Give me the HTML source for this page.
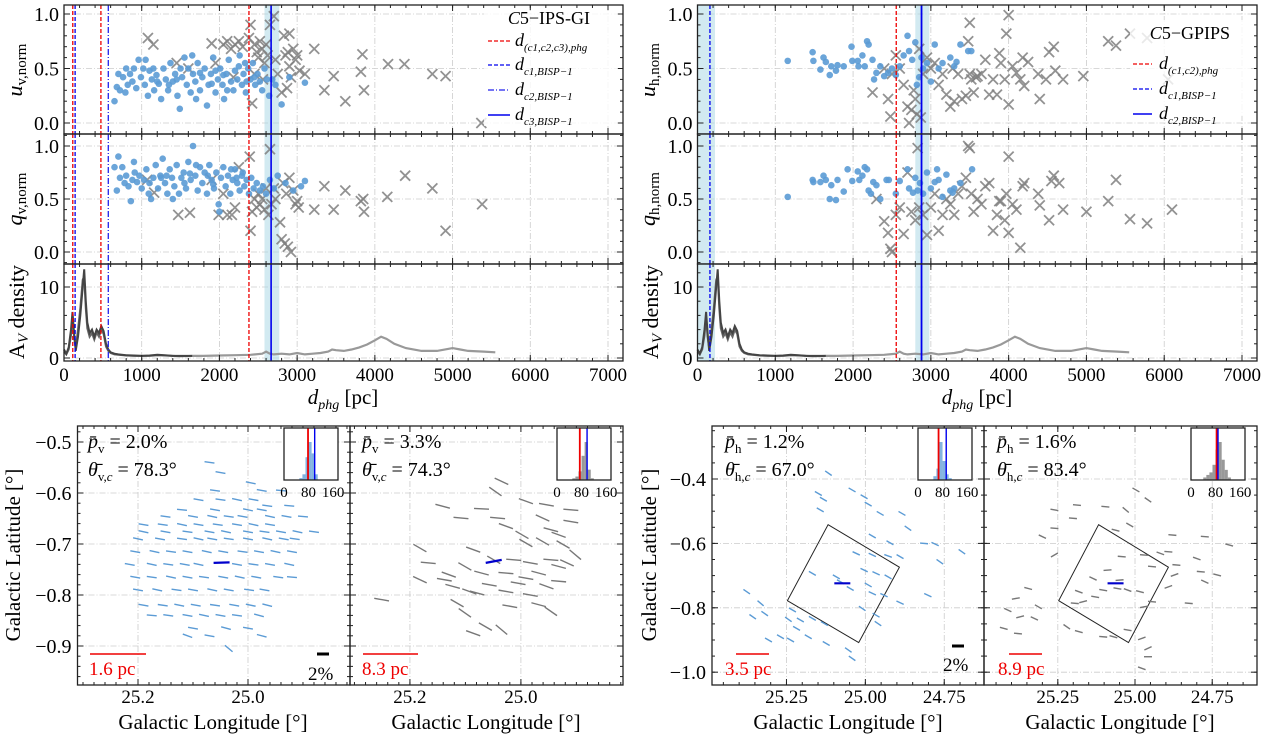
<!DOCTYPE html>
<html><head><meta charset="utf-8"><style>
html,body{margin:0;padding:0;background:#fff}
svg{display:block;font-family:"Liberation Serif",serif}
</style></head><body>
<svg id="fig" xmlns="http://www.w3.org/2000/svg" width="1265" height="737" viewBox="0 0 1265 737">
<g id="root"></g>
</svg>
<script>
// ===== Data: top distance panels =====
const uvBlue=[[650,0.2],[680,0.33],[700,0.45],[720,0.3],[760,0.42],[790,0.28],[820,0.35],[850,0.45],[880,0.38],[900,0.5],[930,0.32],[960,0.58],[990,0.42],[1020,0.5],[1040,0.35],[1080,0.25],[1100,0.48],[1130,0.4],[1160,0.3],[1190,0.44],[1220,0.36],[1250,0.22],[1280,0.5],[1310,0.4],[1340,0.3],[1370,0.55],[1400,0.38],[1430,0.45],[1460,0.25],[1490,0.13],[1520,0.42],[1550,0.6],[1580,0.35],[1600,0.5],[1630,0.28],[1660,0.45],[1690,0.38],[1720,0.55],[1750,0.3],[1780,0.42],[1810,0.5],[1840,0.16],[1860,0.35],[1890,0.45],[1920,0.6],[1950,0.28],[1980,0.4],[2010,0.5],[2040,0.35],[2060,0.22],[2090,0.45],[2120,0.58],[2150,0.38],[2180,0.3],[2200,0.48],[2230,0.4],[2260,0.62],[2290,0.35],[2310,0.45],[2340,0.28],[2370,0.5],[2400,0.4],[2430,0.55],[2460,0.35],[2490,0.45],[2520,0.38],[2550,0.3],[2580,0.5],[2610,0.4],[2640,0.25],[2680,0.4],[2720,0.35],[2800,0.17],[2900,0.42],[3100,0.37],[1200,0.38],[1500,0.5],[1700,0.22],[1900,0.36],[2100,0.3],[2250,0.52],[2350,0.38],[800,0.5],[1050,0.58],[1350,0.35],[1650,0.62],[1950,0.48],[2450,0.42],[1150,0.5],[1450,0.4],[1750,0.46],[2050,0.44],[2330,0.55]];
const uvGray=[[1080,0.78],[1150,0.72],[1450,0.55],[1600,0.5],[1900,0.73],[1950,0.55],[2050,0.72],[2100,0.75],[2150,0.68],[2180,0.42],[2200,0.72],[2250,0.75],[2300,0.7],[2380,0.78],[2400,0.9],[2420,0.18],[2450,0.72],[2480,0.65],[2500,0.6],[2520,0.75],[2550,0.68],[2580,0.55],[2600,0.72],[2620,0.62],[2650,0.9],[2700,0.98],[2720,0.58],[2750,0.45],[2800,0.28],[2830,0.8],[2850,0.62],[2870,0.32],[2880,0.65],[2900,0.82],[2920,0.42],[2950,0.68],[2980,0.58],[3000,0.62],[3030,0.48],[3100,0.45],[3220,0.68],[3350,0.3],[3470,0.43],[3620,0.2],[3820,0.47],[3840,0.63],[3860,0.3],[4170,0.54],[4380,0.54],[4740,0.45],[4910,0.43],[5370,0.0],[2560,0.4],[2450,0.45],[2900,0.52]];
const qvBlue=[[650,0.8],[680,0.58],[700,0.9],[720,0.7],[750,0.8],[780,0.65],[800,0.72],[830,0.62],[860,0.48],[880,0.68],[910,0.75],[940,0.66],[970,0.72],[1000,0.6],[1030,0.68],[1060,0.78],[1090,0.55],[1120,0.5],[1150,0.7],[1180,0.82],[1210,0.6],[1240,0.72],[1270,0.88],[1300,0.65],[1330,0.55],[1360,0.78],[1390,0.7],[1420,0.62],[1450,0.82],[1480,0.55],[1510,0.7],[1540,0.75],[1570,0.6],[1600,0.85],[1630,0.68],[1660,1.0],[1690,0.72],[1720,0.58],[1750,0.8],[1780,0.65],[1810,0.75],[1840,0.55],[1870,0.82],[1900,0.68],[1930,0.6],[1960,0.75],[1990,0.45],[2020,0.7],[2050,0.8],[2080,0.62],[2110,0.72],[2140,0.55],[2170,0.68],[2200,0.78],[2230,0.65],[2260,0.58],[2290,0.72],[2320,0.62],[2350,0.68],[2380,0.55],[2410,0.7],[2440,0.6],[2480,0.65],[2520,0.58],[2560,0.62],[2600,0.55],[2650,0.68],[2700,0.6],[2750,0.72],[2850,0.65],[2950,0.58],[3050,0.62],[3100,0.67],[1100,0.65],[1400,0.5],[1700,0.82],[2000,0.38],[2300,0.75],[900,0.85],[1250,0.7],[1550,0.65],[1850,0.72],[2150,0.78],[1320,0.72],[1620,0.74],[1920,0.64],[2220,0.7]];
const qvGray=[[1070,0.68],[1160,0.56],[1470,0.35],[1620,0.37],[1900,0.68],[1990,0.35],[2050,0.55],[2100,0.35],[2160,0.35],[2200,0.42],[2250,0.8],[2390,0.9],[2400,0.2],[2420,0.38],[2450,0.5],[2480,0.42],[2500,0.55],[2520,0.45],[2550,0.5],[2580,0.4],[2600,0.6],[2630,0.35],[2650,0.97],[2670,0.45],[2700,0.6],[2720,0.5],[2780,0.28],[2800,0.12],[2820,0.65],[2840,0.08],[2860,0.55],[2880,0.05],[2900,0.7],[2920,0.0],[2950,0.58],[2980,0.45],[3000,0.48],[3020,0.42],[3220,0.4],[3350,0.62],[3470,0.4],[3620,0.58],[3820,0.48],[3850,0.5],[3860,0.38],[4160,0.52],[4390,0.72],[4740,0.6],[4910,0.2],[5380,0.45]];
const uhBlue=[[1160,0.57],[1480,0.65],[1490,0.57],[1580,0.49],[1620,0.6],[1650,0.56],[1700,0.44],[1720,0.52],[1780,0.48],[1800,0.53],[1880,0.52],[1980,0.7],[1990,0.57],[2060,0.57],[2070,0.52],[2120,0.62],[2150,0.52],[2180,0.75],[2200,0.72],[2250,0.58],[2270,0.4],[2300,0.46],[2350,0.52],[2400,0.43],[2450,0.46],[2500,0.5],[2550,0.44],[2600,0.52],[2650,0.62],[2700,0.8],[2720,0.66],[2760,0.58],[2800,0.74],[2820,0.35],[2850,0.42],[2880,0.6],[2900,0.5],[2950,0.55],[3000,0.38],[3050,0.72],[3100,0.5],[3150,0.55],[3250,0.6],[3300,0.52],[3380,0.72],[3480,0.66],[3520,0.66],[3330,0.56]];
const uhGray=[[2250,0.28],[2400,0.5],[2450,0.22],[2480,0.06],[2500,0.45],[2550,0.62],[2600,0.5],[2650,0.35],[2700,0.15],[2720,0.0],[2750,0.12],[2780,0.3],[2800,0.22],[2820,0.08],[2850,0.68],[2870,0.05],[2900,0.45],[2950,0.6],[3000,0.5],[3050,0.55],[3100,0.35],[3150,0.45],[3200,0.26],[3250,0.15],[3280,0.5],[3300,0.2],[3350,0.45],[3400,0.22],[3450,0.25],[3480,0.75],[3500,0.92],[3520,0.4],[3550,0.28],[3600,0.43],[3650,0.45],[3700,0.58],[3750,0.26],[3800,0.4],[3850,0.26],[3880,0.64],[3900,0.55],[3950,0.4],[3970,0.82],[4000,0.17],[4000,0.99],[4050,0.52],[4100,0.46],[4150,0.4],[4180,0.6],[4200,0.34],[4250,0.56],[4380,0.45],[4400,0.22],[4480,0.4],[4520,0.65],[4580,0.7],[4600,0.48],[4700,0.4],[4960,0.43],[5280,0.75],[5380,0.71],[5560,0.82],[5780,0.78],[6050,0.4],[3500,0.45],[3580,0.42]];
const qhBlue=[[1160,0.52],[1480,0.68],[1490,0.66],[1580,0.66],[1620,0.72],[1650,0.68],[1700,0.5],[1720,0.63],[1780,0.49],[1800,0.68],[1880,0.57],[1930,0.78],[1990,0.67],[2060,0.76],[2080,0.68],[2120,0.72],[2150,0.8],[2180,0.78],[2200,0.58],[2230,0.55],[2260,0.66],[2300,0.63],[2350,0.5],[2430,0.68],[2460,0.68],[2550,0.55],[2600,0.67],[2700,0.78],[2720,0.6],[2770,0.56],[2800,0.7],[2830,0.58],[2860,0.65],[2900,0.55],[2950,0.75],[3000,0.6],[3050,0.66],[3080,0.78],[3150,0.52],[3200,0.73],[3250,0.58],[3300,0.6],[3380,0.65],[3530,0.78],[3100,0.68],[3280,0.56]];
const qhGray=[[2300,0.5],[2400,0.29],[2450,0.18],[2480,0.03],[2500,0.0],[2550,0.35],[2600,0.42],[2650,0.17],[2700,0.75],[2750,0.38],[2800,0.3],[2830,0.98],[2850,0.42],[2900,0.35],[2950,0.16],[3000,0.42],[3050,0.55],[3100,0.2],[3150,0.35],[3200,0.5],[3250,0.45],[3300,0.35],[3350,0.55],[3400,0.62],[3450,0.7],[3480,1.0],[3500,0.98],[3520,0.55],[3550,0.38],[3600,0.5],[3650,0.45],[3700,0.62],[3750,0.65],[3800,0.2],[3850,0.35],[3880,0.48],[3900,0.48],[3950,0.3],[3970,0.55],[4000,0.18],[4000,0.9],[4050,0.45],[4100,0.4],[4150,0.04],[4180,0.62],[4200,0.65],[4380,0.55],[4400,0.44],[4520,0.3],[4550,0.67],[4580,0.72],[4650,0.65],[4700,0.4],[5000,0.38],[5280,0.48],[5380,0.68],[5560,0.31],[5780,0.27],[6100,0.4]];
const avDarkD=[0,30,60,90,110,130,150,180,210,240,260,280,300,330,360,390,420,450,480,510,540,570,600,650,700,800,900,1000,1100,1200,1300,1400,1500,1650];
const avDarkV=[1.2,0.6,1.5,4.0,6.5,3.5,1.0,3.0,6.0,10.0,12.5,8.0,5.0,3.5,4.0,3.0,4.0,3.5,4.5,3.8,2.0,1.2,0.8,0.6,0.5,0.4,0.35,0.3,0.35,0.45,0.4,0.3,0.3,0.3];
const avDark2V=[0.9,0.5,1.2,3.2,5.8,3.0,1.4,4.0,7.0,11.0,11.5,7.0,4.2,3.0,3.5,2.6,3.6,3.0,4.0,3.4,1.6,1.0,0.7,0.5,0.45,0.35,0.3,0.3,0.3,0.4,0.35,0.3,0.25,0.3];
const avLightD=[1650,1800,2000,2200,2400,2550,2600,2650,2700,2800,2900,3000,3100,3200,3300,3400,3450,3500,3600,3700,3800,3900,4000,4080,4150,4250,4400,4600,4800,4950,5000,5100,5200,5400,5550];
const avLightV=[0.3,0.3,0.35,0.4,0.45,0.6,0.9,0.6,0.5,0.6,0.5,0.7,0.5,0.6,0.7,0.9,1.2,1.1,1.0,1.2,1.5,1.9,2.5,3.0,2.7,2.0,1.4,1.0,1.0,1.3,1.4,1.2,1.0,0.9,0.8];
const uTicks=[0.0,0.5,1.0], avTicks=[0,10], dTicks=[0,1000,2000,3000,4000,5000,6000,7000];

// ===== Data: polarization maps [l, b, tilt deg] =====
const map1=[[25.07,-0.54,8],[25.05,-0.56,10],[24.995,-0.58,12],[25.06,-0.595,8],[24.975,-0.595,10],[24.94,-0.595,5],[25.09,-0.613,10],[25.05,-0.613,8],[25.02,-0.613,12],[24.99,-0.613,10],[24.965,-0.625,8],[24.925,-0.625,5],[25.12,-0.633,6],[25.06,-0.633,10],[25.0,-0.633,12],[24.975,-0.633,10],[25.15,-0.646,8],[25.10,-0.646,10],[25.065,-0.646,12],[25.035,-0.646,8],[25.01,-0.646,10],[24.96,-0.646,12],[24.93,-0.646,10],[24.90,-0.646,5],[25.19,-0.662,10],[25.155,-0.662,8],[25.12,-0.662,12],[25.09,-0.662,10],[25.055,-0.662,8],[25.02,-0.662,10],[24.99,-0.662,12],[24.96,-0.662,10],[25.19,-0.676,12],[25.15,-0.676,10],[25.11,-0.676,8],[25.07,-0.676,10],[25.04,-0.676,12],[25.0,-0.676,10],[24.97,-0.676,8],[24.94,-0.676,10],[24.91,-0.676,12],[24.88,-0.676,8],[25.20,-0.69,12],[25.16,-0.69,10],[25.12,-0.69,8],[25.09,-0.69,12],[25.065,-0.69,10],[25.035,-0.69,8],[25.0,-0.69,10],[24.965,-0.69,12],[24.935,-0.69,10],[24.915,-0.69,8],[25.205,-0.715,10],[25.17,-0.715,12],[25.14,-0.715,8],[25.11,-0.715,10],[25.075,-0.715,12],[25.045,-0.715,10],[25.01,-0.715,8],[24.98,-0.715,10],[24.95,-0.715,12],[24.92,-0.715,10],[25.215,-0.74,10],[25.175,-0.74,12],[25.145,-0.74,8],[25.115,-0.74,10],[25.09,-0.74,12],[25.02,-0.74,10],[24.99,-0.74,8],[24.96,-0.74,10],[24.925,-0.74,12],[25.205,-0.765,10],[25.175,-0.765,8],[25.14,-0.765,12],[25.11,-0.765,10],[25.08,-0.765,8],[25.045,-0.765,10],[25.015,-0.765,12],[24.985,-0.765,10],[24.945,-0.765,8],[24.92,-0.765,5],[25.2,-0.79,10],[25.165,-0.79,12],[25.13,-0.79,8],[25.10,-0.79,10],[25.065,-0.79,12],[25.035,-0.79,10],[24.998,-0.79,8],[24.97,-0.79,10],[25.19,-0.82,10],[25.155,-0.82,8],[25.125,-0.82,12],[25.095,-0.82,10],[25.06,-0.82,8],[25.025,-0.82,10],[24.995,-0.82,12],[24.965,-0.82,15],[25.175,-0.84,5],[25.145,-0.84,8],[25.11,-0.84,10],[25.08,-0.84,12],[25.05,-0.84,10],[25.02,-0.84,8],[24.98,-0.84,15],[25.10,-0.865,10],[25.04,-0.865,15],[25.0,-0.865,10],[25.11,-0.88,20],[25.07,-0.88,10],[24.975,-0.88,15],[25.035,-0.905,40]];
const map2=[[25.035,-0.577,25],[25.046,-0.597,35],[25.141,-0.626,15],[25.071,-0.631,3],[24.991,-0.616,20],[24.954,-0.623,10],[24.91,-0.633,5],[25.108,-0.649,5],[25.042,-0.649,5],[24.961,-0.649,25],[24.91,-0.656,10],[25.027,-0.665,20],[24.998,-0.682,30],[24.946,-0.672,15],[24.932,-0.682,20],[25.182,-0.708,30],[25.086,-0.711,20],[24.991,-0.698,30],[24.961,-0.695,30],[24.924,-0.701,30],[24.902,-0.721,40],[25.167,-0.737,5],[25.101,-0.744,30],[25.013,-0.731,5],[24.983,-0.737,10],[24.946,-0.731,5],[24.932,-0.744,15],[24.917,-0.737,25],[25.182,-0.770,25],[25.130,-0.760,20],[25.071,-0.757,15],[25.027,-0.757,5],[24.991,-0.767,10],[24.968,-0.757,15],[24.932,-0.773,5],[25.123,-0.783,15],[25.093,-0.793,20],[25.057,-0.780,10],[25.005,-0.777,10],[24.954,-0.783,20],[25.115,-0.816,30],[25.079,-0.796,15],[25.027,-0.793,10],[24.983,-0.800,10],[24.968,-0.819,15],[24.946,-0.832,35],[25.101,-0.835,35],[25.251,-0.809,10],[25.064,-0.862,30],[25.035,-0.868,40],[25.086,-0.875,20],[25.049,-0.731,30],[25.138,-0.770,10],[25.020,-0.822,10]];
const map3=[[25.117,-0.382,35],[25.149,-0.445,30],[25.133,-0.463,30],[25.042,-0.434,30],[25.004,-0.455,30],[24.991,-0.478,30],[24.953,-0.507,30],[24.884,-0.507,30],[25.143,-0.496,30],[24.865,-0.553,35],[24.978,-0.577,30],[24.922,-0.598,30],[24.814,-0.600,5],[24.779,-0.602,25],[24.764,-0.657,35],[24.694,-0.626,35],[25.029,-0.631,25],[24.978,-0.636,25],[24.928,-0.639,20],[24.890,-0.641,30],[25.168,-0.693,30],[25.092,-0.704,30],[25.079,-0.719,30],[25.004,-0.683,25],[24.966,-0.693,25],[24.928,-0.704,30],[25.048,-0.740,30],[24.991,-0.729,30],[24.978,-0.755,25],[24.941,-0.761,25],[24.890,-0.784,25],[24.802,-0.761,25],[25.376,-0.750,35],[25.332,-0.786,40],[25.319,-0.818,35],[25.357,-0.828,35],[25.231,-0.807,30],[25.206,-0.838,30],[25.168,-0.833,30],[25.130,-0.849,30],[25.244,-0.836,35],[25.218,-0.864,30],[25.269,-0.890,30],[25.181,-0.890,30],[25.307,-0.900,30],[25.237,-0.900,30],[25.124,-0.911,30],[25.054,-0.931,35],[25.042,-0.957,35],[24.960,-0.849,35],[25.010,-0.802,35],[24.966,-0.823,30]];
const map4=[[24.997,-0.434,30],[24.958,-0.465,35],[25.188,-0.481,5],[25.096,-0.486,5],[25.261,-0.496,10],[25.201,-0.522,5],[25.030,-0.496,40],[25.017,-0.543,30],[25.261,-0.553,5],[25.300,-0.579,25],[25.063,-0.559,15],[24.879,-0.574,5],[24.774,-0.579,5],[24.695,-0.605,15],[24.918,-0.631,20],[24.892,-0.626,5],[24.971,-0.636,5],[25.043,-0.641,5],[24.800,-0.647,20],[25.261,-0.636,-30],[24.945,-0.672,5],[24.866,-0.667,5],[24.787,-0.688,5],[24.774,-0.719,25],[24.872,-0.698,-20],[24.892,-0.735,-20],[25.089,-0.683,-5],[25.050,-0.714,-5],[25.136,-0.709,25],[25.103,-0.745,10],[25.057,-0.740,10],[25.024,-0.745,20],[24.984,-0.750,15],[25.182,-0.750,20],[25.129,-0.766,10],[25.168,-0.781,-15],[25.195,-0.786,5],[24.971,-0.797,-10],[24.945,-0.781,5],[25.386,-0.771,-10],[25.412,-0.807,25],[25.326,-0.833,25],[25.372,-0.828,-15],[25.221,-0.859,35],[25.182,-0.874,15],[25.103,-0.890,5],[25.070,-0.890,15],[25.024,-0.869,10],[24.978,-0.895,-20],[24.958,-0.926,-25],[24.958,-0.952,0],[24.978,-0.988,20],[25.425,-0.864,15],[25.379,-0.880,5],[25.313,-0.797,30],[25.346,-0.740,15],[24.826,-0.786,5],[24.734,-0.698,15]];
const histBins=[0,10,20,30,40,50,60,70,80,90,100,110,120,130,140,150,160,170];
const hist1=[0,0,0,0,0,1,3,12,20,14,3,0,0,0,0,0,0,0];
const hist2=[0,0,0,0,0,1,2,5,14,22,6,1,0,0,0,0,0,0];
const hist3=[0,0,0,0,0,2,6,20,10,3,1,0,0,0,0,0,0,0];
const hist4=[0,0,0,0,1,2,3,6,12,15,8,4,1,0,0,0,0,0];
const thetaMean=[78.3,74.3,67.0,83.4], thetaBlue=[100,98,92,88];
const squareL=[25.118,24.892,25.021,25.247], squareB=[-0.542,-0.674,-0.908,-0.778];

// ===== drawing helpers =====
const NS='http://www.w3.org/2000/svg';
const root=document.getElementById('root');
function el(tag,attrs,parent,txt){const e=document.createElementNS(NS,tag);for(const k in attrs)e.setAttribute(k,attrs[k]);if(txt!==undefined)e.textContent=txt;(parent||root).appendChild(e);return e;}
function lin(d0,d1,p0,p1){return v=>p0+(v-d0)/(d1-d0)*(p1-p0);}
const BLUE='#5b9bd5', GRAY='#808080';

function frame(g,x0,y0,x1,y1){
  const r=el('rect',{x:x0,y:y0,width:x1-x0,height:y1-y0,fill:'none',stroke:'#222','stroke-width':1.3},g);
  
}
function vgrid(g,x,y0,y1){el('line',{x1:x,x2:x,y1:y0,y2:y1,stroke:'#ccc','stroke-width':0.8,'stroke-dasharray':'6 2 1 2'},g);}
function hgrid(g,y,x0,x1){el('line',{x1:x0,x2:x1,y1:y,y2:y,stroke:'#ccc','stroke-width':0.8,'stroke-dasharray':'6 2 1 2'},g);}
function xticks(g,sx,vals,y0,y1,len){vals.forEach(v=>{const x=sx(v);el('line',{x1:x,x2:x,y1:y1,y2:y1-len,stroke:'#222','stroke-width':1},g);el('line',{x1:x,x2:x,y1:y0,y2:y0+len,stroke:'#222','stroke-width':1},g);});}
function yticks(g,sy,vals,x0,x1,len){vals.forEach(v=>{const y=sy(v);el('line',{x1:x0,x2:x0+len,y1:y,y2:y,stroke:'#222','stroke-width':1},g);el('line',{x1:x1,x2:x1-len,y1:y,y2:y,stroke:'#222','stroke-width':1},g);});}
function range(a,b,s){const r=[];for(let v=a;v<=b+1e-9;v+=s)r.push(+v.toFixed(6));return r;}

// ===== top panels =====
function topPanel(cfg){
  const g=el('g',{});
  
  const sx=lin(0,7000,cfg.x0,cfg.x7000);
  const rows=[
    {y0:5,y1:134,sy:lin(0,1,123,14),blue:cfg.uBlue,gray:cfg.uGray,ticks:uTicks,minor:range(-0.1,1.08,0.1),name:'u-row'},
    {y0:134,y1:264,sy:lin(0,1,252,146),blue:cfg.qBlue,gray:cfg.qGray,ticks:uTicks,minor:range(-0.1,1.1,0.1),name:'q-row'},
    {y0:264,y1:361,sy:lin(0,10,358,287),av:true,ticks:avTicks,minor:range(0,12,2),name:'av-row'}
  ];
  rows.forEach(r=>{
    const rg=el('g',{},g);
    
    dTicks.forEach(d=>vgrid(rg,sx(d),r.y0,r.y1));
    r.ticks.forEach(v=>hgrid(rg,r.sy(v),cfg.x0,cfg.x1));
    cfg.bands.forEach(b=>el('rect',{x:sx(b[0]),y:r.y0,width:sx(b[1])-sx(b[0]),height:r.y1-r.y0,fill:'#add8e6',opacity:0.55},rg));
    if(r.av){
      const p1=avDarkD.map((d,i)=>(i?'L':'M')+sx(d).toFixed(1)+','+r.sy(avDarkV[i]).toFixed(1)).join('');
      const p2=avDarkD.map((d,i)=>(i?'L':'M')+sx(d).toFixed(1)+','+r.sy(avDark2V[i]).toFixed(1)).join('');
      const p3=avLightD.map((d,i)=>(i?'L':'M')+sx(d).toFixed(1)+','+r.sy(avLightV[i]).toFixed(1)).join('');
      const a=el('path',{d:p3,fill:'none',stroke:'#999','stroke-width':2.2},rg);
      
      const b=el('path',{d:p2,fill:'none',stroke:'#666','stroke-width':2},rg);
      
      const c=el('path',{d:p1,fill:'none',stroke:'#444','stroke-width':2},rg);
      
    } else {
      r.gray.forEach(p=>{const x=sx(p[0]),y=r.sy(p[1]),s=5;
        const m=el('path',{d:`M${x-s},${y-s}L${x+s},${y+s}M${x-s},${y+s}L${x+s},${y-s}`,stroke:GRAY,'stroke-width':1.8,opacity:0.85},rg);
        });
      r.blue.forEach(p=>{const c=el('circle',{cx:sx(p[0]),cy:r.sy(p[1]),r:3.3,fill:BLUE,opacity:0.9},rg);
        });
    }
    cfg.vlines.forEach(v=>{const l=el('line',{x1:sx(v.d),x2:sx(v.d),y1:r.y0,y2:r.y1,stroke:v.c,'stroke-width':v.w||1.3,'stroke-dasharray':v.dash||'none'},rg);
      });
    frame(rg,cfg.x0,r.y0,cfg.x1,r.y1);
    xticks(rg,sx,dTicks,r.y0,r.y1,6);
    xticks(rg,sx,range(0,7000,200),r.y0,r.y1,3);
    yticks(rg,r.sy,r.ticks,cfg.x0,cfg.x1,6);
    yticks(rg,r.sy,r.minor,cfg.x0,cfg.x1,3);
    r.ticks.forEach(v=>{const t=el('text',{x:cfg.x0-5,y:r.sy(v)+7,'text-anchor':'end','font-size':20},rg,r.av?String(v):v.toFixed(1));
      });
  });
  dTicks.forEach(d=>{const t=el('text',{x:sx(d),y:381,'text-anchor':'middle','font-size':19},g,String(d));
    });
  return g;
}
function addHTML(svgStr){const g=document.createElementNS(NS,'g');g.innerHTML=svgStr;root.appendChild(g);}

topPanel({name:'ipsgi-distance-panel',x0:64,x1:623,x7000:608,uBlue:uvBlue,uGray:uvGray,qBlue:qvBlue,qGray:qvGray,
  bands:[[2580,2770]],
  vlines:[{d:113,c:'#e00',dash:'4 2'},{d:143,c:'#00e',dash:'4 2'},{d:475,c:'#e00',dash:'4 2'},{d:570,c:'#22e',dash:'6 2 1 2'},{d:2380,c:'#e00',dash:'4 2'},{d:2665,c:'#00e',w:1.6}]});
topPanel({name:'gpips-distance-panel',x0:697.5,x1:1257,x7000:1242,uBlue:uhBlue,uGray:uhGray,qBlue:qhBlue,qGray:qhGray,
  bands:[[5,225],[2800,2980]],
  vlines:[{d:160,c:'#00e',dash:'4 2'},{d:2555,c:'#e00',dash:'4 2'},{d:2880,c:'#00e',w:1.8}]});

addHTML(`
<text transform="translate(22,70) rotate(-90)" text-anchor="middle" font-size="22"><tspan font-style="italic">u</tspan><tspan font-size="15" dy="4">v,norm</tspan></text>
<text transform="translate(22,199) rotate(-90)" text-anchor="middle" font-size="22"><tspan font-style="italic">q</tspan><tspan font-size="15" dy="4">v,norm</tspan></text>
<text transform="translate(24,312) rotate(-90)" text-anchor="middle" font-size="22">A<tspan font-size="15" dy="4" font-style="italic">V</tspan><tspan dy="-4"> density</tspan></text>
<text transform="translate(655,70) rotate(-90)" text-anchor="middle" font-size="22"><tspan font-style="italic">u</tspan><tspan font-size="15" dy="4">h,norm</tspan></text>
<text transform="translate(655,199) rotate(-90)" text-anchor="middle" font-size="22"><tspan font-style="italic">q</tspan><tspan font-size="15" dy="4">h,norm</tspan></text>
<text transform="translate(658,312) rotate(-90)" text-anchor="middle" font-size="22">A<tspan font-size="15" dy="4" font-style="italic">V</tspan><tspan dy="-4"> density</tspan></text>
<text x="343" y="404" text-anchor="middle" font-size="21"><tspan font-style="italic">d</tspan><tspan font-size="14" dy="5" font-style="italic">phg</tspan><tspan dy="-5"> [pc]</tspan></text>
<text x="977" y="404" text-anchor="middle" font-size="21"><tspan font-style="italic">d</tspan><tspan font-size="14" dy="5" font-style="italic">phg</tspan><tspan dy="-5"> [pc]</tspan></text>
<g font-size="18">
<rect x="484" y="10" width="134" height="116" fill="#fff" opacity="0.8"/>
<text x="590" y="24" text-anchor="end" font-size="18"><tspan font-style="italic">C</tspan>5−IPS-GI</text>
<line x1="488" x2="510" y1="41" y2="41" stroke="#e00" stroke-width="1.3" stroke-dasharray="4 2"/>
<text x="515" y="46"><tspan font-style="italic">d</tspan><tspan font-size="11" dy="5" font-style="italic">(c1,c2,c3),phg</tspan></text>
<line x1="488" x2="510" y1="65" y2="65" stroke="#00e" stroke-width="1.3" stroke-dasharray="4 2"/>
<text x="515" y="70"><tspan font-style="italic">d</tspan><tspan font-size="11" dy="5" font-style="italic">c1,BISP−1</tspan></text>
<line x1="488" x2="510" y1="90" y2="90" stroke="#22e" stroke-width="1.3" stroke-dasharray="6 2 1 2"/>
<text x="515" y="95"><tspan font-style="italic">d</tspan><tspan font-size="11" dy="5" font-style="italic">c2,BISP−1</tspan></text>
<line x1="488" x2="510" y1="115" y2="115" stroke="#00e" stroke-width="1.6"/>
<text x="515" y="120"><tspan font-style="italic">d</tspan><tspan font-size="11" dy="5" font-style="italic">c3,BISP−1</tspan></text>
</g>
<g font-size="18">
<rect x="1130" y="20" width="124" height="96" fill="#fff" opacity="0.8"/>
<text x="1230" y="39" text-anchor="end"><tspan font-style="italic">C</tspan>5−GPIPS</text>
<line x1="1133" x2="1152" y1="64" y2="64" stroke="#e00" stroke-width="1.3" stroke-dasharray="4 2"/>
<text x="1159" y="69"><tspan font-style="italic">d</tspan><tspan font-size="11" dy="5" font-style="italic">(c1,c2),phg</tspan></text>
<line x1="1133" x2="1152" y1="89" y2="89" stroke="#00e" stroke-width="1.3" stroke-dasharray="4 2"/>
<text x="1159" y="94"><tspan font-style="italic">d</tspan><tspan font-size="11" dy="5" font-style="italic">c1,BISP−1</tspan></text>
<line x1="1133" x2="1152" y1="114" y2="114" stroke="#00e" stroke-width="1.6"/>
<text x="1159" y="119"><tspan font-style="italic">d</tspan><tspan font-size="11" dy="5" font-style="italic">c2,BISP−1</tspan></text>
</g>`);

// ===== map panels =====
function mapPanel(cfg){
  const g=el('g',{});
  
  const sx=lin(cfg.l0,cfg.l1,cfg.x0,cfg.x1), sy=lin(cfg.b0,cfg.b1,426,685);
  cfg.xgrid.forEach(v=>vgrid(g,sx(v),426,685));
  cfg.ygrid.forEach(v=>hgrid(g,sy(v),cfg.x0,cfg.x1));
  if(cfg.square){const pts=squareL.map((l,i)=>sx(l).toFixed(1)+','+sy(squareB[i]).toFixed(1)).join(' ');
    const p=el('polygon',{points:pts,fill:'none',stroke:'#222','stroke-width':1},g);
    }
  cfg.data.forEach(s=>{const x=sx(s[0]),y=sy(s[1]),a=s[2]*Math.PI/180,h=cfg.len/2;
    const dx=h*Math.cos(a),dy=h*Math.sin(a);
    const l=el('line',{x1:x-dx,y1:y-dy,x2:x+dx,y2:y+dy,stroke:cfg.color,'stroke-width':1.4},g);
    });
  const cx=sx(cfg.center[0]),cy=sy(cfg.center[1]);
  const c=el('line',{x1:cx-8,y1:cy,x2:cx+8,y2:cy-cfg.center[2],stroke:'#00c','stroke-width':2.2},g);
  
  frame(g,cfg.x0,426,cfg.x1,685);
  xticks(g,sx,cfg.xminor,426,685,3);xticks(g,sx,cfg.xgrid,426,685,6);
  yticks(g,sy,cfg.yminor,cfg.x0,cfg.x1,3);yticks(g,sy,cfg.ygrid,cfg.x0,cfg.x1,6);
  cfg.xlab.forEach((v,i)=>{const t=el('text',{x:sx(v),y:703,'text-anchor':'middle','font-size':19},g,cfg.xlabTxt[i]);
    });
  if(cfg.ylabTxt)cfg.ygrid.forEach((v,i)=>{const t=el('text',{x:cfg.x0-6,y:sy(v)+7,'text-anchor':'end','font-size':20},g,cfg.ylabTxt[i]);
    });
  const ix0=cfg.x1-66, ix1=cfg.x1-12, iy0=428, iy1=480;
  const hx=lin(0,176,ix0,ix1), hmax=Math.max(...cfg.hist), hy=lin(0,hmax,iy1,iy1-38);
  const ig=el('g',{},g);
  el('rect',{x:ix0,y:iy0,width:ix1-ix0,height:iy1-iy0,fill:'#fff'},ig);
  histBins.forEach((b,i)=>{if(!cfg.hist[i])return;const r=el('rect',{x:hx(b),y:hy(cfg.hist[i]),width:hx(b+10)-hx(b),height:iy1-hy(cfg.hist[i]),fill:cfg.color,opacity:0.75},ig);
    });
  el('line',{x1:hx(cfg.tm),x2:hx(cfg.tm),y1:iy0,y2:iy1,stroke:'#e00','stroke-width':1.8},ig);
  el('line',{x1:hx(cfg.tb),x2:hx(cfg.tb),y1:iy0,y2:iy1,stroke:'#00e','stroke-width':1.4},ig);
  frame(ig,ix0,iy0,ix1,iy1);
  [0,80,160].forEach(v=>el('text',{x:hx(v),y:497,'text-anchor':'middle','font-size':15},ig,String(v)));
  return g;
}
const gmin1=range(24.82,25.3,0.02);
mapPanel({name:'ipsgi-map-near',x0:77.5,x1:350,l0:25.31,l1:24.8145,b0:-0.4686,b1:-0.9765,data:map1,color:BLUE,len:10,center:[25.048,-0.737,0.5],
  xgrid:[25.2,25.0],xminor:gmin1,ygrid:[-0.5,-0.6,-0.7,-0.8,-0.9],ylabTxt:['−0.5','−0.6','−0.7','−0.8','−0.9'],yminor:range(-0.96,-0.48,0.02),
  xlab:[25.2,25.0],xlabTxt:['25.2','25.0'],hist:hist1,tm:thetaMean[0],tb:thetaBlue[0]});
mapPanel({name:'ipsgi-map-far',x0:350,x1:623,l0:25.308,l1:24.816,b0:-0.4686,b1:-0.9765,data:map2,color:'#777',len:15,center:[25.049,-0.737,3],
  xgrid:[25.2,25.0],xminor:gmin1,ygrid:[-0.5,-0.6,-0.7,-0.8,-0.9],yminor:range(-0.96,-0.48,0.02),
  xlab:[25.2,25.0],xlabTxt:['25.2','25.0'],hist:hist2,tm:thetaMean[1],tb:thetaBlue[1]});
mapPanel({name:'gpips-map-near',x0:712,x1:984,l0:25.486,l1:24.624,b0:-0.2354,b1:-1.0398,data:map3,color:BLUE,len:8,center:[25.073,-0.724,0],square:true,
  xgrid:[25.25,25.0,24.75],xminor:range(24.65,25.45,0.05),ygrid:[-0.4,-0.6,-0.8,-1.0],ylabTxt:['−0.4','−0.6','−0.8','−1.0'],yminor:range(-1.0,-0.25,0.05),
  xlab:[25.25,25.0,24.75],xlabTxt:['25.25','25.00','24.75'],hist:hist3,tm:thetaMean[2],tb:thetaBlue[2]});
mapPanel({name:'gpips-map-far',x0:984,x1:1257,l0:25.489,l1:24.605,b0:-0.2354,b1:-1.0398,data:map4,color:'#777',len:8,center:[25.063,-0.724,0],square:true,
  xgrid:[25.25,25.0,24.75],xminor:range(24.65,25.45,0.05),ygrid:[-0.4,-0.6,-0.8,-1.0],yminor:range(-1.0,-0.25,0.05),
  xlab:[25.25,25.0,24.75],xlabTxt:['25.25','25.00','24.75'],hist:hist4,tm:thetaMean[3],tb:thetaBlue[3]});

addHTML(`
<g font-size="20">
<text x="88" y="448"><tspan font-style="italic">p̄</tspan><tspan font-size="13" dy="5">v</tspan><tspan dy="-5"> = 2.0%</tspan></text>
<text x="88" y="476"><tspan font-style="italic">θ̄</tspan><tspan font-size="13" dy="5">v,<tspan font-style="italic">c</tspan></tspan><tspan dy="-5"> = 78.3°</tspan></text>
<text x="362" y="448"><tspan font-style="italic">p̄</tspan><tspan font-size="13" dy="5">v</tspan><tspan dy="-5"> = 3.3%</tspan></text>
<text x="362" y="476"><tspan font-style="italic">θ̄</tspan><tspan font-size="13" dy="5">v,<tspan font-style="italic">c</tspan></tspan><tspan dy="-5"> = 74.3°</tspan></text>
<text x="725" y="448"><tspan font-style="italic">p̄</tspan><tspan font-size="13" dy="5">h</tspan><tspan dy="-5"> = 1.2%</tspan></text>
<text x="725" y="476"><tspan font-style="italic">θ̄</tspan><tspan font-size="13" dy="5">h,<tspan font-style="italic">c</tspan></tspan><tspan dy="-5"> = 67.0°</tspan></text>
<text x="997" y="448"><tspan font-style="italic">p̄</tspan><tspan font-size="13" dy="5">h</tspan><tspan dy="-5"> = 1.6%</tspan></text>
<text x="997" y="476"><tspan font-style="italic">θ̄</tspan><tspan font-size="13" dy="5">h,<tspan font-style="italic">c</tspan></tspan><tspan dy="-5"> = 83.4°</tspan></text>
</g>
<g font-size="19">
<line x1="90" x2="146" y1="654" y2="654" stroke="#e00" stroke-width="1.6"/><text x="89" y="675" fill="#e00">1.6 pc</text>
<line x1="363" x2="418" y1="654" y2="654" stroke="#e00" stroke-width="1.6"/><text x="362" y="675" fill="#e00">8.3 pc</text>
<line x1="736" x2="769" y1="654" y2="654" stroke="#e00" stroke-width="1.6"/><text x="725" y="675" fill="#e00">3.5 pc</text>
<line x1="1009" x2="1042" y1="654" y2="654" stroke="#e00" stroke-width="1.6"/><text x="998" y="675" fill="#e00">8.9 pc</text>
<line x1="317" x2="329" y1="654" y2="654" stroke="#000" stroke-width="3"/><text x="308" y="680">2%</text>
<line x1="952" x2="964" y1="646" y2="646" stroke="#000" stroke-width="3"/><text x="943" y="671">2%</text>
</g>
<text transform="translate(20,555) rotate(-90)" text-anchor="middle" font-size="21">Galactic Latitude [°]</text>
<text transform="translate(656,555) rotate(-90)" text-anchor="middle" font-size="21">Galactic Latitude [°]</text>
<text x="213" y="729" text-anchor="middle" font-size="21">Galactic Longitude [°]</text>
<text x="486" y="729" text-anchor="middle" font-size="21">Galactic Longitude [°]</text>
<text x="848" y="729" text-anchor="middle" font-size="21">Galactic Longitude [°]</text>
<text x="1120" y="729" text-anchor="middle" font-size="21">Galactic Longitude [°]</text>
`);
</script>
</body></html>
